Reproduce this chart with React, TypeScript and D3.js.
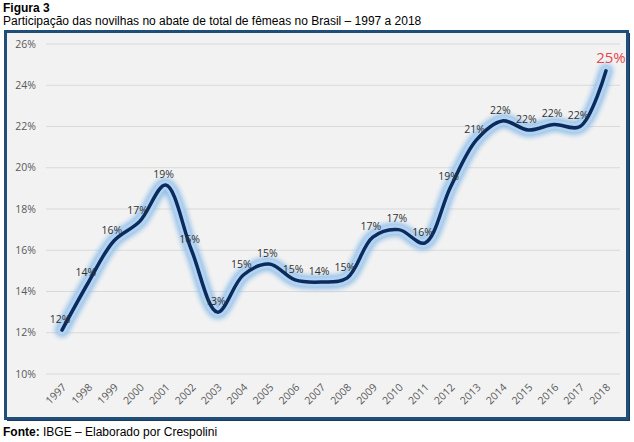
import React from "react";
import * as d3 from "d3";

const years = [
  "1997","1998","1999","2000","2001","2002","2003","2004","2005","2006","2007",
  "2008","2009","2010","2011","2012","2013","2014","2015","2016","2017","2018",
];
const shares = [
  12.13, 14.4, 16.45, 17.4, 19.16, 16.0, 13.0, 14.8, 15.33, 14.56, 14.46,
  14.65, 16.64, 17.0, 16.35, 19.07, 21.35, 22.27, 21.83, 22.1, 22.0, 24.7,
];
const yTicks = [10, 12, 14, 16, 18, 20, 22, 24, 26];

const titleText = "Figura 3";
const subtitleText = "Participação das novilhas no abate de total de fêmeas no Brasil – 1997 a 2018";
const sourceBold = "Fonte:";
const sourceText = " IBGE – Elaborado por Crespolini";

const W = 634;
const H = 442;

export default function App() {
  const x = d3.scalePoint<string>().domain(years).range([62, 606]);
  const y = d3.scaleLinear().domain([10, 26]).range([374, 44]);

  const pts = years.map((yr, i) => ({ yr, v: shares[i] }));
  const line = d3
    .line<{ yr: string; v: number }>()
    .x((d) => x(d.yr) as number)
    .y((d) => y(d.v))
    .curve(d3.curveCatmullRom.alpha(0.5));
  const path = line(pts) || "";
  const last = pts.length - 1;

  const sans = "'Liberation Sans', Arial, sans-serif";
  const cal = "'Open Sans', 'Noto Sans', sans-serif";

  return (
    <svg
      width={W}
      height={H}
      style={{ position: "absolute", left: 0, top: 0, background: "#ffffff" }}
    >
      <defs>
        <filter id="glow" x="-10%" y="-10%" width="120%" height="120%">
          <feGaussianBlur stdDeviation="2.5" />
        </filter>
      </defs>
      <text x={3} y={12} fontFamily={sans} fontSize={12} fontWeight="bold" fill="#000">
        {titleText}
      </text>
      <text x={3} y={25} fontFamily={sans} fontSize={12} fill="#000">
        {subtitleText}
      </text>

      {/* chart frame */}
      <rect x={7} y={33} width={623} height={388} fill="#17375e" />
      <rect x={5.5} y={31.5} width={622} height={387} fill="#f2f2f2" stroke="#1f4e79" strokeWidth={3} />

      {/* gridlines */}
      {yTicks.map((t) => (
        <line key={t} x1={46} x2={620} y1={y(t)} y2={y(t)} stroke="#d9d9d9" strokeWidth={1} />
      ))}
      {yTicks.map((t) => (
        <text
          key={"l" + t}
          x={36}
          y={y(t)}
          dy="0.35em"
          textAnchor="end"
          fontFamily={cal}
          fontSize={10.5}
          fill="#595959"
        >
          {t + "%"}
        </text>
      ))}
      {years.map((yr) => (
        <text
          key={yr}
          transform={`translate(${(x(yr) as number) + 5},${388}) rotate(-45)`}
          textAnchor="end"
          fontFamily={cal}
          fontSize={10.5}
          fill="#595959"
        >
          {yr}
        </text>
      ))}

      {/* line with glow */}
      <path d={path} fill="none" stroke="#8fbde8" strokeWidth={14} strokeLinecap="round" filter="url(#glow)" opacity={0.95} />
      <path d={path} fill="none" stroke="#b4d5f2" strokeWidth={9} strokeLinecap="round" opacity={0.9} />
      <path d={path} fill="none" stroke="#0b2b5e" strokeWidth={3.5} strokeLinecap="round" />

      {/* data labels */}
      {pts.map((d, i) =>
        i === last ? null : (
          <text
            key={"d" + d.yr}
            x={(x(d.yr) as number) - 2}
            y={y(d.v) - 11}
            dy="0.35em"
            textAnchor="middle"
            fontFamily={cal}
            fontSize={10.5}
            fill="#303030"
          >
            {Math.round(d.v) + "%"}
          </text>
        )
      )}
      <text
        x={(x(pts[last].yr) as number) + 5}
        y={y(pts[last].v) - 8}
        textAnchor="middle"
        fontFamily={cal}
        fontSize={15}
        fill="#e8474c"
      >
        {Math.round(pts[last].v) + "%"}
      </text>

      <text x={3} y={436} fontFamily={sans} fontSize={12} fill="#000">
        <tspan fontWeight="bold">{sourceBold}</tspan>
        <tspan>{sourceText}</tspan>
      </text>
    </svg>
  );
}
